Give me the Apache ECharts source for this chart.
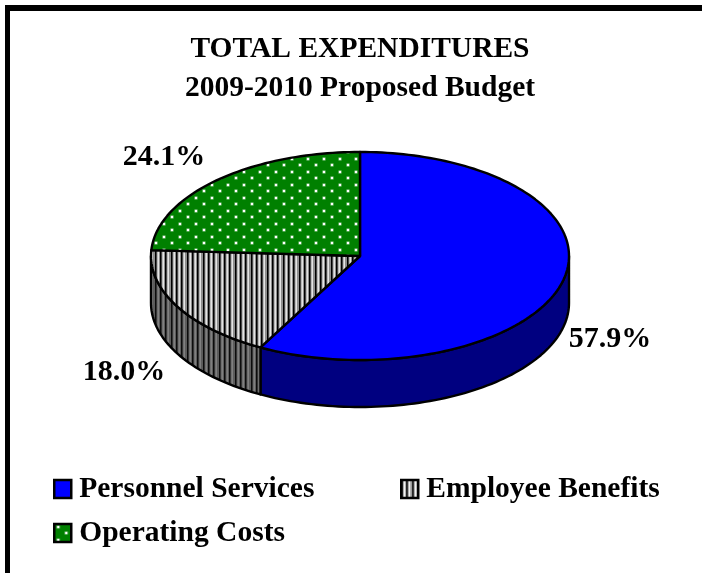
<!DOCTYPE html>
<html><head><meta charset="utf-8">
<style>html,body{margin:0;padding:0;background:#fff}#c{width:702px;height:573px}</style>
<script src="https://cdn.jsdelivr.net/npm/echarts@6/dist/echarts.min.js"></script>
</head><body><div id="c"></div>
<script>
var titleText = 'TOTAL EXPENDITURES\n2009-2010 Proposed Budget';
var categories = ['Personnel Services', 'Employee Benefits', 'Operating Costs'];
var values = [57.9, 18.0, 24.1];

// Layout and styles
var CX = 360, CY = 256, RX = 209, RY = 104, DEPTH = 47;
var FONT = '"Liberation Serif", "Times New Roman", serif';
var labelPos = [[610, 339], [124, 372], [164, 157]];
var legendPos = [[53, 474], [400, 474], [53, 518]];

function tile(w, h, draw) {
  var c = document.createElement('canvas'); c.width = w; c.height = h;
  draw(c.getContext('2d')); return c;
}
function stripes(bg, light, dark) {
  return { image: tile(16, 16, function (g) {
    g.fillStyle = bg; g.fillRect(0, 0, 16, 16);
    [0, 5, 11].forEach(function (x) {
      g.fillStyle = dark; g.fillRect(x, 0, 1.5, 16);
      g.fillStyle = light; g.fillRect(x + 2.5, 0, 1.5, 16);
    });
  }), repeat: 'repeat' };
}
var dots = { image: tile(16, 13, function (g) {
  g.fillStyle = '#008000'; g.fillRect(0, 0, 16, 13);
  [[3, 2], [11, 8]].forEach(function (p) {
    g.fillStyle = '#a8d4a8'; g.fillRect(p[0] - .5, p[1] - .5, 3, 3);
    g.fillStyle = '#ffffff'; g.fillRect(p[0], p[1], 2, 2);
  });
}), repeat: 'repeat' };
var topFill = ['#0000ff', stripes('#8e8e8e', '#e4e4e4', '#000000'), dots];
var sideFill = ['#000080', stripes('#5c5c5c', '#808080', '#0c0c0c'), null];

var total = values.reduce(function (a, b) { return a + b; }, 0);
function ell(deg, dy) {
  var t = deg * Math.PI / 180;
  return [CX + RX * Math.sin(t), CY - RY * Math.cos(t) + (dy || 0)];
}
function arc(a, b, dy) {
  var pts = [], n = Math.max(2, Math.ceil(Math.abs(b - a) / 1.5));
  for (var i = 0; i <= n; i++) pts.push(ell(a + (b - a) * i / n, dy));
  return pts;
}
function renderSlice(idx) {
  return function (params, api) {
    var before = 0;
    for (var i = 0; i < idx; i++) before += values[i];
    var a = before / total * 360, b = (before + api.value(0)) / total * 360;
    var kids = [];
    var wa = Math.max(a, 90), wb = Math.min(b, 270);
    if (wb > wa && sideFill[idx]) {
      kids.push({ type: 'polygon',
        shape: { points: arc(wa, wb, 0).concat(arc(wb, wa, DEPTH)) },
        style: { fill: sideFill[idx], stroke: '#000', lineWidth: 2.4, lineJoin: 'round' } });
    }
    kids.push({ type: 'polygon',
      shape: { points: [[CX, CY]].concat(arc(a, b, 0)) },
      style: { fill: topFill[idx], stroke: '#000', lineWidth: 2.4, lineJoin: 'round' }, z2: 5 });
    kids.push({ type: 'text', z2: 10,
      style: { x: labelPos[idx][0], y: labelPos[idx][1], text: api.value(0).toFixed(1) + '%',
        align: 'center', verticalAlign: 'middle', fill: '#000',
        font: 'bold 30px ' + FONT } });
    return { type: 'group', children: kids };
  };
}
var legendSwatch = ['#0000ff', stripes('#9a9a9a', '#ffffff', '#000000'), dots];
var chart = echarts.init(document.getElementById('c'), null, { renderer: 'canvas' });
chart.setOption({
  animation: false,
  backgroundColor: '#fff',
  title: { text: titleText, left: 355, top: 25, textAlign: 'center',
    textStyle: { fontFamily: FONT, fontWeight: 'bold', fontSize: 29.5, lineHeight: 39, color: '#000' } },
  legend: categories.map(function (name, i) {
    return { left: legendPos[i][0], top: legendPos[i][1], padding: 0, orient: 'horizontal',
      icon: 'rect', itemWidth: 17, itemHeight: 18, itemGap: 0, selectedMode: false,
      textStyle: { fontFamily: FONT, fontWeight: 'bold', fontSize: 29.5, color: '#000', padding: [0, 0, 0, 3] },
      data: [{ name: name, itemStyle: { color: legendSwatch[i], borderColor: '#000', borderWidth: 2.5 } }] };
  }),
  series: categories.map(function (name, i) {
    return { type: 'custom', name: name, coordinateSystem: 'none', silent: true,
      data: [[values[i]]], renderItem: renderSlice(i),
      itemStyle: { color: i === 0 ? '#0000ff' : i === 1 ? '#b8b8b8' : '#008000' } };
  }),
  graphic: [
    { type: 'rect', shape: { x: 5, y: 5, width: 697, height: 6 }, style: { fill: '#000' }, silent: true },
    { type: 'rect', shape: { x: 5, y: 5, width: 5, height: 568 }, style: { fill: '#000' }, silent: true }
  ]
});
</script></body></html>
